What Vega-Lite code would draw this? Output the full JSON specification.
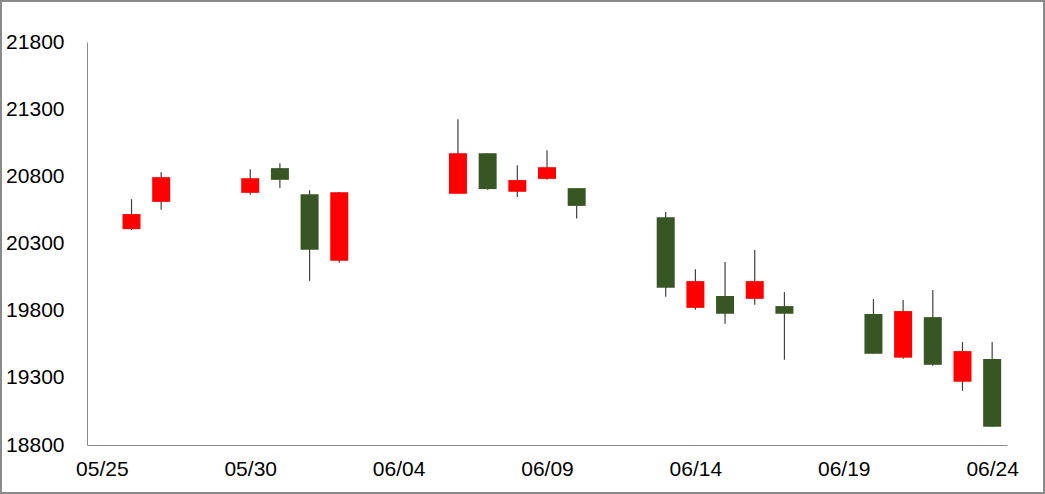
{
  "$schema": "https://vega.github.io/schema/vega-lite/v6.json",
  "width": 1045,
  "height": 494,
  "autosize": {"type": "none"},
  "padding": 0,
  "background": "#ffffff",
  "config": {
    "view": {"stroke": "#8a8a8a", "strokeWidth": 4},
    "axis": {
      "labelFont": "Liberation Sans",
      "labelFontSize": 21,
      "labelColor": "#000000",
      "domainColor": "#8a8a8a",
      "domainWidth": 1,
      "ticks": false,
      "grid": false,
      "title": null
    }
  },
  "data": {
    "values": [
      {"date": "2022-05-26", "open": 20407, "close": 20519, "high": 20630, "low": 20400},
      {"date": "2022-05-27", "open": 20610, "close": 20794, "high": 20831, "low": 20551},
      {"date": "2022-05-30", "open": 20677, "close": 20786, "high": 20853, "low": 20662},
      {"date": "2022-05-31", "open": 20861, "close": 20774, "high": 20898, "low": 20714},
      {"date": "2022-06-01", "open": 20667, "close": 20253, "high": 20697, "low": 20022},
      {"date": "2022-06-02", "open": 20171, "close": 20682, "high": 20684, "low": 20156},
      {"date": "2022-06-06", "open": 20670, "close": 20972, "high": 21225, "low": 20670},
      {"date": "2022-06-07", "open": 20972, "close": 20705, "high": 20972, "low": 20700},
      {"date": "2022-06-08", "open": 20685, "close": 20772, "high": 20883, "low": 20647},
      {"date": "2022-06-09", "open": 20781, "close": 20868, "high": 20995, "low": 20774},
      {"date": "2022-06-10", "open": 20712, "close": 20580, "high": 20712, "low": 20487},
      {"date": "2022-06-13", "open": 20496, "close": 19970, "high": 20534, "low": 19903},
      {"date": "2022-06-14", "open": 19821, "close": 20020, "high": 20109, "low": 19807},
      {"date": "2022-06-15", "open": 19909, "close": 19777, "high": 20162, "low": 19702},
      {"date": "2022-06-16", "open": 19888, "close": 20020, "high": 20251, "low": 19844},
      {"date": "2022-06-17", "open": 19834, "close": 19777, "high": 19938, "low": 19435},
      {"date": "2022-06-20", "open": 19775, "close": 19479, "high": 19886, "low": 19479},
      {"date": "2022-06-21", "open": 19450, "close": 19797, "high": 19879, "low": 19442},
      {"date": "2022-06-22", "open": 19752, "close": 19397, "high": 19953, "low": 19390},
      {"date": "2022-06-23", "open": 19271, "close": 19499, "high": 19566, "low": 19204},
      {"date": "2022-06-24", "open": 19440, "close": 18936, "high": 19566, "low": 18936}
    ]
  },
  "encoding": {
    "x": {
      "field": "date",
      "type": "temporal",
      "scale": {
        "type": "utc",
        "domain": [
          {"year": 2022, "month": 5, "date": 24, "hours": 12, "utc": true},
          {"year": 2022, "month": 6, "date": 24, "hours": 12, "utc": true}
        ],
        "range": [87, 1007],
        "padding": 0
      },
      "axis": {
        "orient": "bottom",
        "offset": -49,
        "labelExpr": "utcFormat(datum.value, '%m/%d')",
        "labelPadding": 13,
        "labelBaseline": "top",
        "values": [
          {"year": 2022, "month": 5, "date": 25, "utc": true},
          {"year": 2022, "month": 5, "date": 30, "utc": true},
          {"year": 2022, "month": 6, "date": 4, "utc": true},
          {"year": 2022, "month": 6, "date": 9, "utc": true},
          {"year": 2022, "month": 6, "date": 14, "utc": true},
          {"year": 2022, "month": 6, "date": 19, "utc": true},
          {"year": 2022, "month": 6, "date": 24, "utc": true}
        ]
      }
    }
  },
  "layer": [
    {
      "mark": {"type": "rule", "color": "#404040", "strokeWidth": 1.2},
      "encoding": {
        "y": {
          "field": "low",
          "type": "quantitative",
          "scale": {"domain": [18800, 21800], "range": [445, 42], "nice": false, "zero": false},
          "axis": {
            "orient": "left",
            "offset": -87,
            "labelPadding": 23,
            "labelBaseline": "middle",
            "values": [18800, 19300, 19800, 20300, 20800, 21300, 21800],
            "format": "d"
          }
        },
        "y2": {"field": "high"}
      }
    },
    {
      "mark": {"type": "bar", "size": 18},
      "encoding": {
        "y": {"field": "open", "type": "quantitative"},
        "y2": {"field": "close"},
        "color": {
          "condition": {"test": "datum.close > datum.open", "value": "#FF0000"},
          "value": "#375623"
        }
      }
    }
  ]
}
